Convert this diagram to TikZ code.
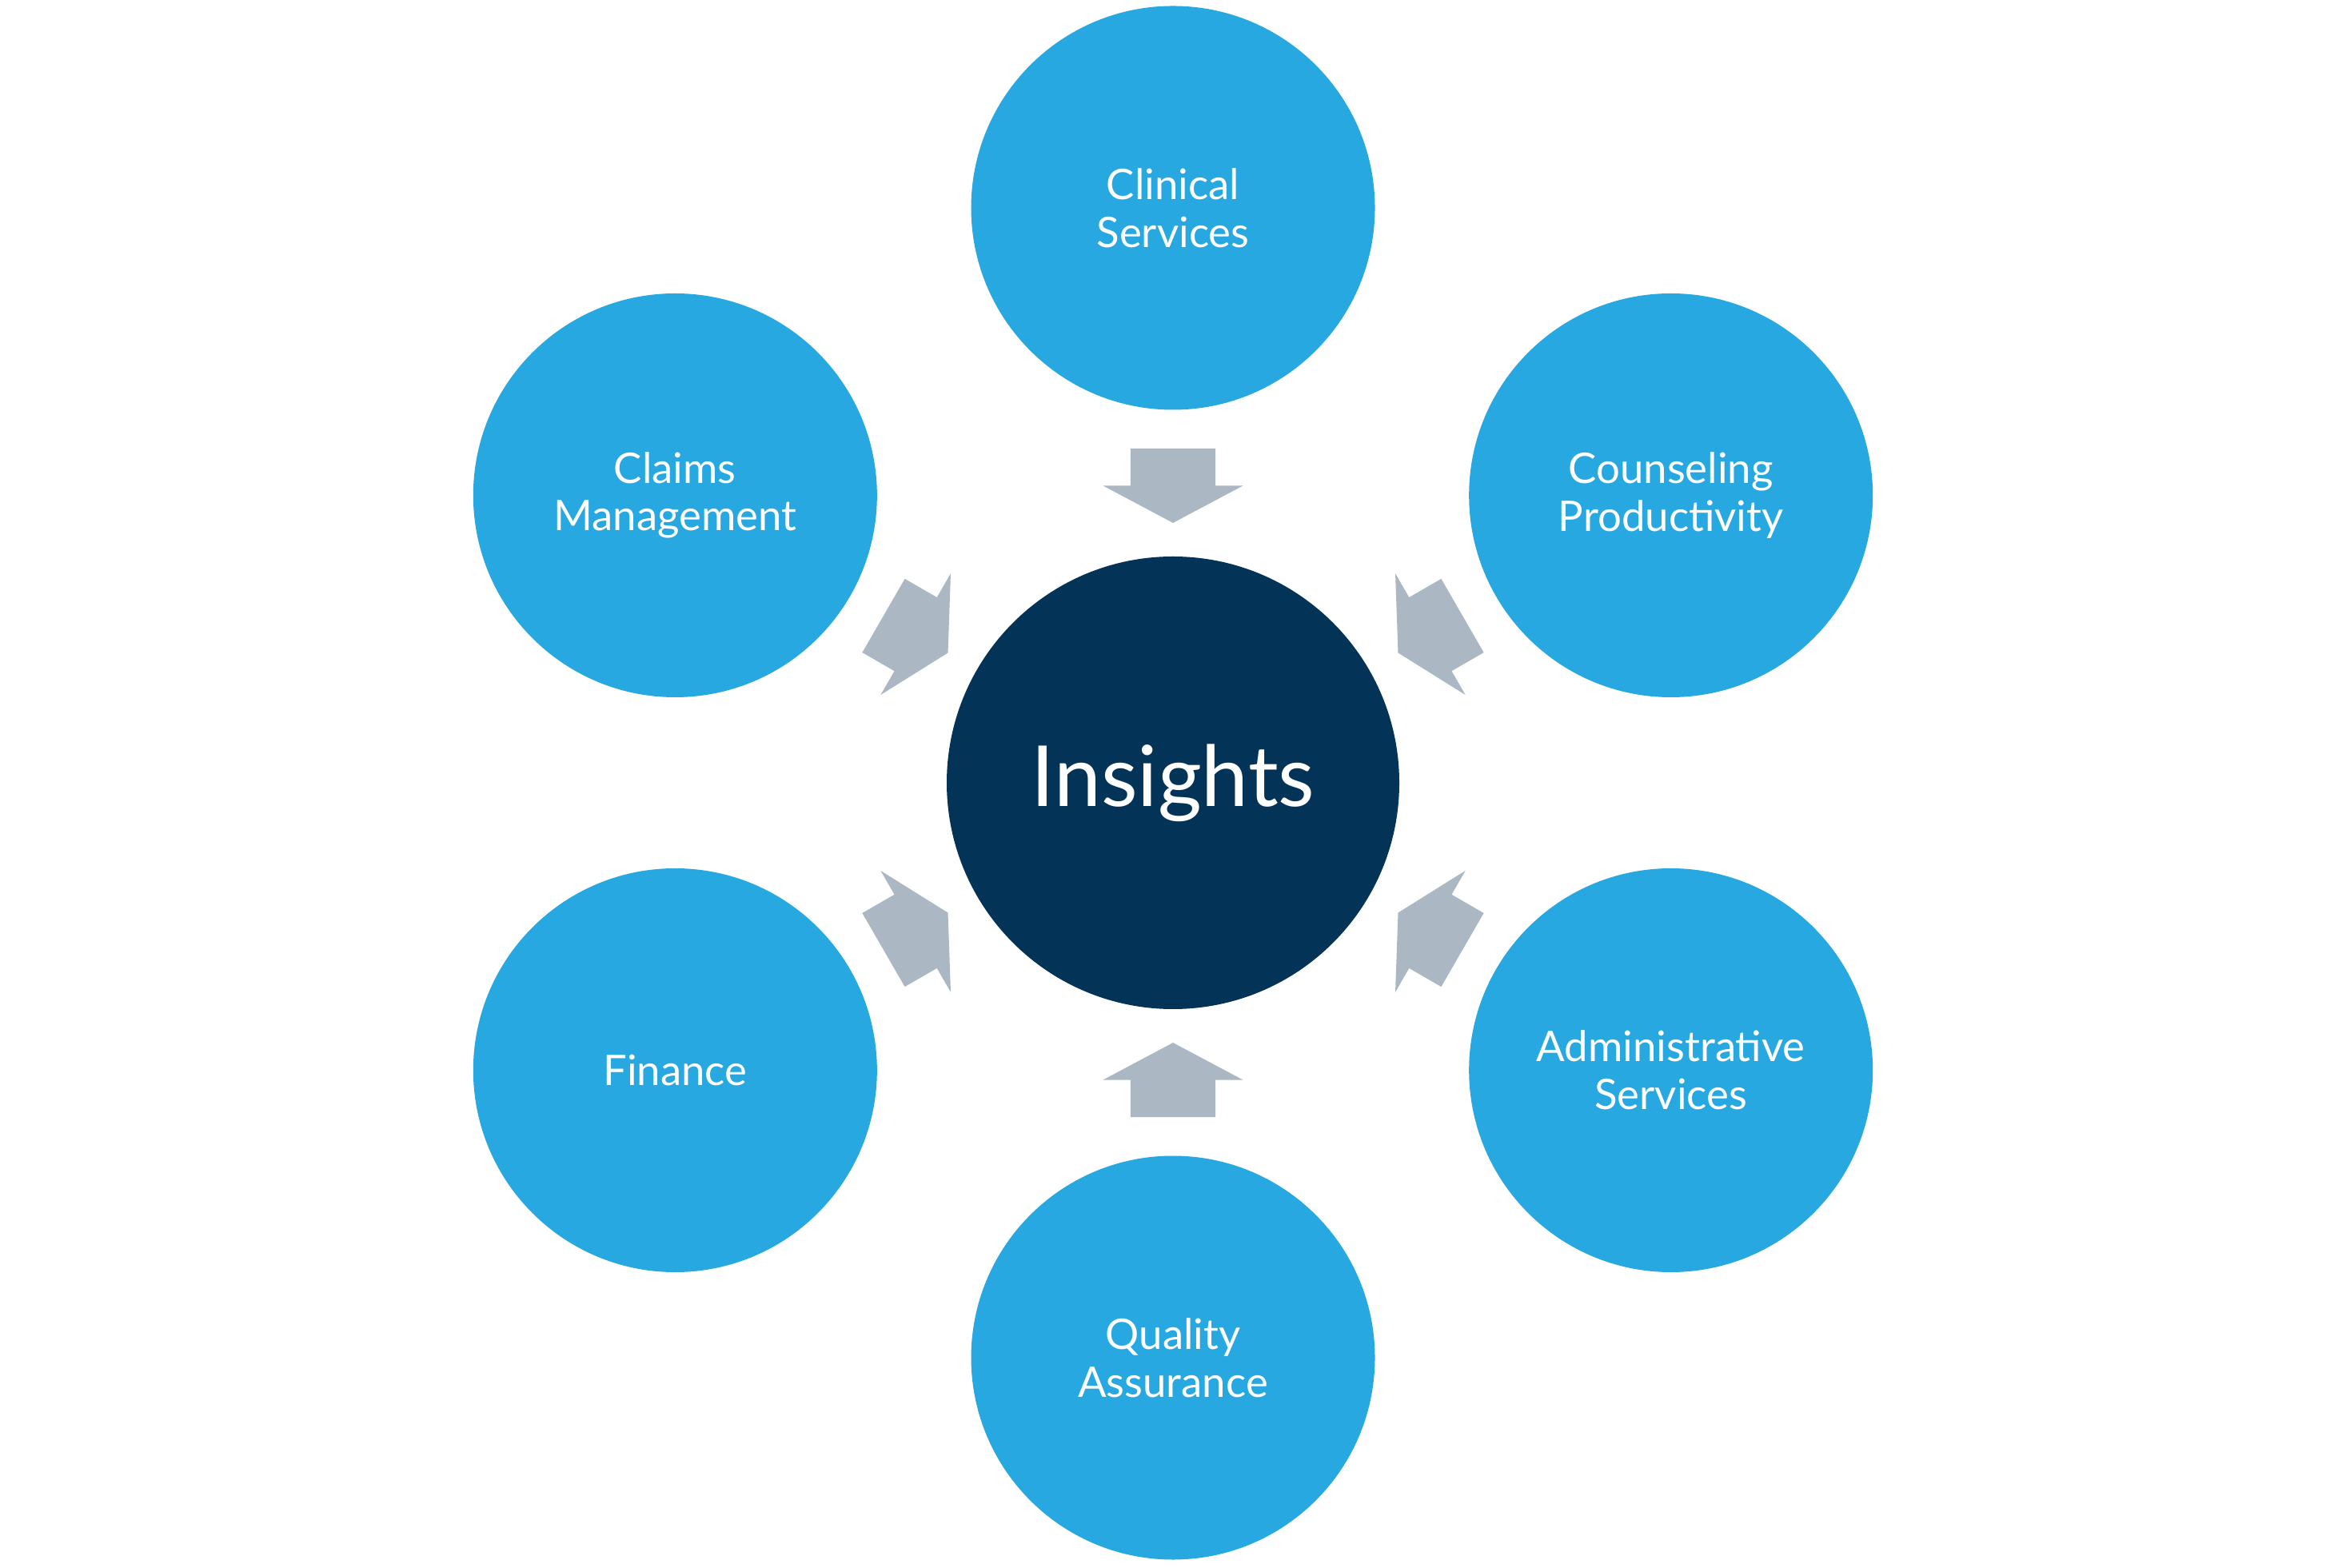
\documentclass[tikz,border=0pt]{standalone}
\usepackage{fontspec}
\setmainfont{Lato}
\usetikzlibrary{shapes.arrows, calc}
\definecolor{sky_blue}{RGB}{39, 168, 224}
\definecolor{deep_navy}{RGB}{3, 51, 87}
\definecolor{slate_gray}{RGB}{171, 183, 194}

\begin{document}
\begin{tikzpicture}[
    % Central hub style
    hub/.style={
        circle,
        minimum size=5.66cm,
        inner sep=0pt,
        fill=deep_navy,
        text=white,
        font=\fontsize{30}{36}\selectfont
    },
    % Surrounding area style
    area/.style={
        circle,
        minimum size=5.05cm,
        inner sep=0pt,
        fill=sky_blue,
        text=white,
        align=center,
        font=\fontsize{15}{17}\selectfont
    },
    % Block arrow style
    feed/.style={
        single arrow,
        fill=slate_gray,
        minimum height=0.93cm,
        inner xsep=0pt,
        inner ysep=0.525cm,
        single arrow head extend=0.345cm,
        single arrow tip angle=124,
        rotate=#1
    }
]
\useasboundingbox (0,0) rectangle (29.34,19.60);

% Hub in the middle
\node[hub] (insights) at (14.67,9.81) {Insights};

% Six areas round the hub
\node[area] (clinical) at ($(insights)+(90:7.19)$) {Clinical\\Services};
\node[area] (counseling) at ($(insights)+(30:7.19)$) {Counseling\\Productivity};
\node[area] (admin) at ($(insights)+(-30:7.19)$) {Administrative\\Services};
\node[area] (quality) at ($(insights)+(-90:7.19)$) {Quality\\Assurance};
\node[area] (finance) at ($(insights)+(210:7.19)$) {Finance};
\node[area] (claims) at ($(insights)+(150:7.19)$) {Claims\\Management};

% Arrows into the hub
\foreach \src/\ang in {clinical/90, counseling/30, admin/-30, quality/-90, finance/210, claims/150}
    \node[feed=\ang+180] (\src-feed) at ($(\src.\ang+180)!0.44!(insights.\ang)$) {};

\end{tikzpicture}
\end{document}
